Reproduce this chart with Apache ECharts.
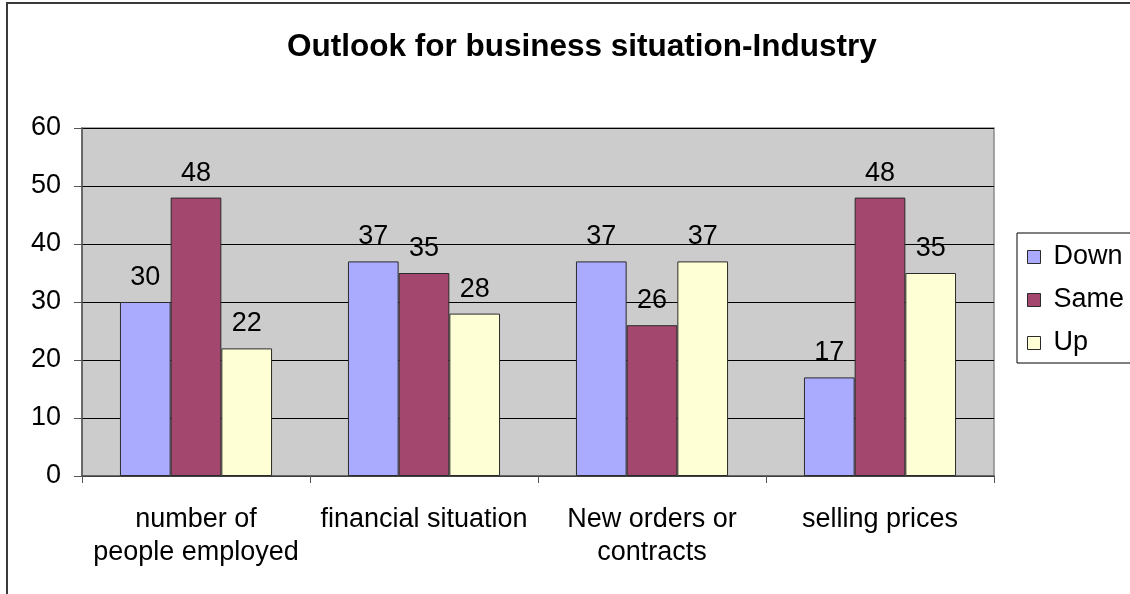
<!DOCTYPE html>
<html>
<head>
<meta charset="utf-8">
<style>
  html, body { margin: 0; padding: 0; background: #ffffff; }
  #chart { width: 1130px; height: 594px; }
</style>
<script src="https://cdn.jsdelivr.net/npm/echarts@6/dist/echarts.min.js"></script>
</head>
<body>
<div id="chart"></div>
<script>
// Survey answers (% of respondents) for each business indicator
const categories = [
  'number of\npeople employed',
  'financial situation',
  'New orders or\ncontracts',
  'selling prices'
];
const seriesNames = ['Down', 'Same', 'Up'];
const downValues = [30, 37, 37, 17];
const sameValues = [48, 35, 26, 48];
const upValues = [22, 28, 37, 35];
const yTicks = { min: 0, max: 60, interval: 10 };

const FONT = '"Liberation Sans", Arial, sans-serif';
const colors = ['#AAAAFF', '#A3476F', '#FFFFD5'];

const chart = echarts.init(document.getElementById('chart'), null, { renderer: 'canvas' });

function barSeries(name, data, color) {
  return {
    name: name,
    type: 'bar',
    data: data,
    barGap: '0%',
    barCategoryGap: '33.3%',
    itemStyle: { color: color, borderColor: '#2b2b2b', borderWidth: 1 },
    label: {
      show: true,
      position: 'top',
      distance: 11,
      color: '#000',
      fontFamily: FONT,
      fontSize: 27
    },
    emphasis: { disabled: true }
  };
}

chart.setOption({
  animation: false,
  backgroundColor: '#ffffff',
  textStyle: { fontFamily: FONT },
  title: {
    text: 'Outlook for business situation-Industry',
    left: 287,
    top: 31,
    padding: 0,
    textStyle: { fontFamily: FONT, fontSize: 31.5, fontWeight: 'bold', color: '#000' }
  },
  graphic: [{
    type: 'rect',
    shape: { x: 7, y: 3, width: 1160, height: 640 },
    style: { fill: null, stroke: '#3a3a3a', lineWidth: 2 },
    silent: true,
    z: 100
  }],
  legend: {
    orient: 'vertical',
    left: 1017,
    top: 233,
    width: 112,
    padding: [9, 10, 5, 10],
    itemGap: 13,
    itemWidth: 13,
    itemHeight: 13,
    icon: 'rect',
    borderColor: '#000',
    borderWidth: 1,
    data: seriesNames,
    itemStyle: { borderColor: '#2b2b2b', borderWidth: 1 },
    textStyle: {
      fontFamily: FONT,
      fontSize: 27,
      lineHeight: 30,
      color: '#000',
      padding: [0, 0, 0, 8]
    },
    selectedMode: false
  },
  grid: {
    left: 82,
    top: 128,
    right: 136,
    bottom: 118,
    show: true,
    backgroundColor: '#CCCCCC',
    borderColor: '#8a8a8a',
    borderWidth: 1.5
  },
  xAxis: {
    type: 'category',
    data: categories,
    axisLine: { show: true, lineStyle: { color: '#555', width: 1.5 } },
    axisTick: { show: true, length: 7, alignWithLabel: false, lineStyle: { color: '#555' } },
    axisLabel: {
      color: '#000',
      fontFamily: FONT,
      fontSize: 27,
      lineHeight: 33,
      margin: 27,
      interval: 0
    },
    splitLine: { show: false }
  },
  yAxis: {
    type: 'value',
    min: yTicks.min,
    max: yTicks.max,
    interval: yTicks.interval,
    axisLine: { show: true, lineStyle: { color: '#555', width: 1.5 } },
    axisTick: { show: true, length: 8, inside: false, lineStyle: { color: '#555' } },
    axisLabel: {
      color: '#000',
      fontFamily: FONT,
      fontSize: 27,
      margin: 21
    },
    splitLine: { show: true, lineStyle: { color: '#000', width: 1 } }
  },
  series: [
    barSeries(seriesNames[0], downValues, colors[0]),
    barSeries(seriesNames[1], sameValues, colors[1]),
    barSeries(seriesNames[2], upValues, colors[2])
  ]
});
</script>
</body>
</html>
